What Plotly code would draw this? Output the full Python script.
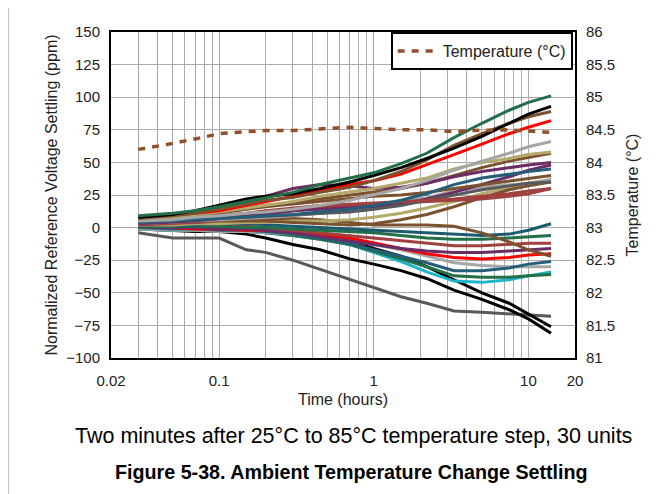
import plotly.graph_objects as go

# Data
time_h = [0.03, 0.05, 0.07, 0.1, 0.15, 0.2, 0.3, 0.45, 0.7, 1, 1.5, 2.2, 3.3, 5, 7.5, 10, 14]

unit_colors = [
    '#595959', '#000000', '#000000', '#1FB5C8', '#226F48', '#A6A6A6', '#255E78',
    '#FF0000', '#6B2D64', '#A0403F', '#226F48', '#1C5A6E', '#7B5230', '#B2A96B',
    '#7B5230', '#A0403F', '#A6A6A6', '#6B2D64', '#7B5230', '#595959', '#A0403F',
    '#7B5230', '#255E78', '#6B2D64', '#B2A96B', '#A6A6A6', '#FF0000', '#7B5230',
    '#000000', '#226F48',
]

unit_ppm = [
    [-4, -8, -8, -8, -17, -19, -25, -32, -40, -46, -53, -58, -64, -65, -66, -67, -68],
    [-1, -2, -3, -3, -5, -8, -13, -17, -24, -28, -33, -39, -48, -55, -63, -70, -81],
    [0, 0, -1, -1, -2, -2, -3, -6, -10, -16, -22, -30, -40, -50, -58, -66, -76],
    [-1, -2, -2, -3, -3, -4, -6, -9, -13, -19, -26, -34, -41, -42, -40, -37, -34],
    [-1, -1, -2, -2, -3, -4, -6, -9, -13, -18, -24, -30, -37, -38, -38, -37, -36],
    [-1, -2, -2, -3, -3, -4, -5, -7, -10, -13, -17, -22, -27, -29, -30, -30, -30],
    [0, -1, -1, -2, -2, -3, -5, -8, -12, -17, -22, -27, -33, -33, -31, -28, -26],
    [0, 0, -1, -1, -2, -2, -3, -5, -8, -12, -16, -20, -23, -24, -23, -21, -20],
    [0, 0, 0, -1, -1, -2, -4, -7, -10, -13, -16, -18, -19, -19, -18, -17, -16],
    [1, 1, 2, 2, 1, 0, -2, -4, -6, -8, -10, -12, -14, -14, -13, -12, -12],
    [0, 1, 1, 1, 0, 0, -1, -2, -3, -4, -6, -8, -9, -9, -8, -7, -6],
    [1, 2, 2, 3, 3, 2, 1, 0, -1, -2, -3, -4, -5, -6, -5, -2, 3],
    [2, 3, 4, 5, 6, 7, 7, 6, 4, 2, 2, 2, 1, -4, -11, -17, -22],
    [2, 2, 3, 3, 4, 4, 5, 5, 6, 8, 11, 15, 20, 26, 31, 34, 36],
    [3, 4, 4, 5, 5, 5, 4, 3, 2, 3, 6, 10, 16, 23, 29, 32, 35],
    [2, 3, 4, 6, 8, 10, 13, 15, 16, 17, 19, 20, 21, 22, 24, 26, 30],
    [3, 4, 5, 6, 7, 8, 9, 11, 13, 16, 19, 23, 28, 31, 33, 34, 37],
    [3, 4, 5, 7, 9, 11, 13, 14, 15, 16, 18, 22, 27, 33, 39, 44, 48],
    [5, 7, 9, 11, 14, 16, 18, 20, 22, 24, 25, 27, 30, 33, 36, 38, 40],
    [4, 5, 6, 7, 8, 9, 10, 11, 12, 14, 17, 21, 25, 29, 32, 34, 35],
    [4, 6, 7, 9, 11, 13, 15, 17, 18, 19, 20, 21, 22, 24, 26, 28, 30],
    [5, 7, 9, 12, 15, 17, 19, 22, 25, 27, 30, 34, 40, 46, 51, 54, 57],
    [4, 5, 6, 7, 8, 9, 10, 12, 14, 17, 21, 26, 33, 38, 41, 43, 45],
    [6, 8, 11, 14, 18, 24, 30, 33, 32, 30, 31, 34, 39, 43, 46, 48, 50],
    [6, 8, 10, 12, 15, 17, 20, 24, 27, 30, 34, 38, 45, 50, 53, 56, 58],
    [5, 6, 8, 9, 11, 12, 14, 17, 21, 25, 30, 36, 44, 51, 57, 62, 66],
    [8, 10, 11, 13, 17, 20, 24, 28, 33, 36, 41, 48, 56, 64, 72, 77, 82],
    [7, 9, 11, 14, 18, 21, 23, 27, 31, 36, 43, 52, 63, 72, 80, 85, 89],
    [8, 10, 13, 17, 22, 24, 26, 30, 35, 40, 46, 53, 61, 70, 80, 87, 93],
    [9, 11, 13, 16, 20, 23, 27, 33, 38, 42, 49, 57, 69, 80, 90, 96, 101],
]

temp_time_h = [0.03, 0.045, 0.07, 0.1, 0.15, 0.2, 0.3, 0.45, 0.7, 1, 1.5, 2.2, 3.3, 4.5, 7, 10, 14]
temp_c = [84.2, 84.27, 84.36, 84.44, 84.47, 84.49, 84.49, 84.51, 84.54, 84.52, 84.5, 84.5,
          84.47, 84.49, 84.5, 84.48, 84.46]

x_grid = [0.02, 0.03, 0.04, 0.05, 0.06, 0.07, 0.08, 0.09,
          0.1, 0.2, 0.3, 0.4, 0.5, 0.6, 0.7, 0.8, 0.9,
          1, 2, 3, 4, 5, 6, 7, 8, 9, 10, 20]
x_labeled = {0.02: '0.02', 0.1: '0.1', 1: '1', 10: '10', 20: '20'}
x_text = [x_labeled.get(v, '') for v in x_grid]

y_ticks = [-100, -75, -50, -25, 0, 25, 50, 75, 100, 125, 150]
y2_ticks = [81, 81.5, 82, 82.5, 83, 83.5, 84, 84.5, 85, 85.5, 86]

caption = 'Two minutes after 25°C to 85°C temperature step, 30 units'
fig_title = 'Figure 5-38. Ambient Temperature Change Settling'

FONT = 'Liberation Sans, Arial, sans-serif'
TXT = '#222222'

fig = go.Figure()

for vals, col in zip(unit_ppm, unit_colors):
    fig.add_trace(go.Scatter(x=time_h, y=vals, mode='lines',
                             line=dict(color=col, width=3),
                             showlegend=False, hoverinfo='skip'))

fig.add_trace(go.Scatter(x=temp_time_h, y=temp_c, yaxis='y2', mode='lines',
                         name='Temperature (°C)',
                         line=dict(color='#93512A', width=3.5, dash='7px,7px')))

# Layout (page body adds 8px offset, margins compensate)
fig.update_layout(
    width=667, height=494,
    margin=dict(l=103, r=100, t=24, b=144),
    plot_bgcolor='white', paper_bgcolor='white',
    font=dict(family=FONT, size=15, color=TXT),
    legend=dict(x=0.995, y=1, xanchor='right', yanchor='top',
                bgcolor='white', bordercolor='black', borderwidth=2,
                font=dict(size=16, color=TXT), itemwidth=40,
                tracegroupgap=0),
)

fig.update_xaxes(type='log', range=[-1.69897, 1.30103],
                 tickvals=x_grid, ticktext=x_text, ticks='',
                 showgrid=True, gridcolor='#ABABAB', gridwidth=1,
                 showline=True, linecolor='black', linewidth=2, mirror=True,
                 ticklabelstandoff=8,
                 title=dict(text='Time (hours)', font=dict(size=16), standoff=6))

fig.update_yaxes(range=[-100, 150], tickvals=y_ticks, ticks='',
                 showgrid=True, gridcolor='#ABABAB', gridwidth=1, zeroline=False,
                 showline=True, linecolor='black', linewidth=2, mirror=True,
                 ticklabelstandoff=6,
                 title=dict(text='Normalized Reference Voltage Settling (ppm)',
                            font=dict(size=16), standoff=5))

fig.update_layout(yaxis2=dict(overlaying='y', side='right', range=[81, 86],
                              tickvals=y2_ticks, ticks='', showgrid=False,
                              zeroline=False, ticklabelstandoff=6,
                              showline=True, linecolor='black', linewidth=2,
                              title=dict(text='Temperature (°C)', font=dict(size=16),
                                         standoff=13)))

# captions under the chart
fig.add_annotation(text=caption, xref='paper', yref='paper', x=0.522, y=-0.239,
                   showarrow=False, font=dict(size=21.5, color='black'),
                   xanchor='center', yanchor='middle')
fig.add_annotation(text='<b>' + fig_title + '</b>', xref='paper', yref='paper',
                   x=0.519, y=-0.35, showarrow=False,
                   font=dict(size=19.7, color='black'),
                   xanchor='center', yanchor='middle')

# page border line on the left
fig.add_shape(type='line', xref='paper', yref='paper',
              x0=-0.222, x1=-0.222, y0=-0.45, y1=1.1,
              line=dict(color='#7F7F7F', width=1))

fig.write_html("out.html")
